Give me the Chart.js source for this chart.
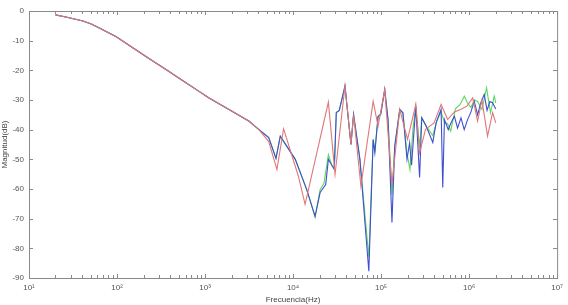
<!DOCTYPE html>
<html>
<head>
<meta charset="utf-8">
<script src="https://cdn.jsdelivr.net/npm/chart.js@4"></script>
<style>
  html, body { margin: 0; padding: 0; background: #fff; overflow: hidden; }
  #bode { display: block; }
</style>
</head>
<body>
<canvas id="bode" width="568" height="305"></canvas>
<script>
// ---- data (frequency in Hz, magnitude in dB) ----
const lowFreq = [20, 27, 41, 51, 63, 98, 151, 233, 360, 555, 855, 1110, 1870, 3140, 4070];
const lowMag  = [-1.3, -2.1, -3.4, -4.4, -5.7, -8.7, -12.4, -16.1, -19.7, -23.4, -27.1, -29.3, -33.2, -37.1, -39.9];

const freqBlue = [5290, 6400, 7160, 10600, 14300, 17800, 20300, 23500, 25200, 29400, 31000, 33500, 38900, 45500, 48700, 57500,
  72600, 81300, 85000, 92500, 99000, 110000, 120000, 133000, 143000, 163000, 177000, 197000, 211000, 222000, 248000,
  274000, 290000, 325000, 387000, 422000, 481000, 502000, 525000, 580000, 624000, 681000, 740000, 809000, 880000,
  962000, 1050000, 1145000, 1250000, 1360000, 1485000, 1600000, 1720000, 1845000, 2010000];
const magBlue = [-42.7, -49.7, -42.2, -50.0, -60.2, -69.2, -61.2, -58.5, -50.0, -53.4, -34.2, -33.5, -25.3, -45.0, -34.9, -50.0,
  -87.7, -43.3, -47.8, -35.5, -34.9, -26.5, -36.6, -71.3, -45.6, -33.2, -34.3, -50.0, -44.4, -52.0, -32.1,
  -56.1, -36.0, -38.8, -44.3, -37.7, -33.2, -59.5, -36.6, -40.0, -37.7, -35.5, -39.5, -36.0, -40.0,
  -36.6, -34.0, -30.4, -35.0, -30.9, -28.1, -33.5, -30.5, -30.9, -33.0];

const freqGreen = [5290, 6400, 7160, 10600, 14300, 17800, 20300, 22500, 25200, 27500, 29400, 31000, 33500, 38900, 45500, 48700,
  57500, 72600, 81300, 85000, 92500, 99000, 110000, 120000, 133000, 143000, 163000, 177000, 197000, 213000, 230000,
  248000, 274000, 290000, 325000, 387000, 430000, 481000, 525000, 570000, 618000, 700000, 790000, 883000, 960000,
  1050000, 1145000, 1250000, 1400000, 1580000, 1750000, 1930000, 2010000];
const magGreen = [-42.7, -49.7, -42.2, -50.0, -60.2, -69.5, -60.2, -58.0, -48.4, -52.0, -53.0, -34.2, -33.5, -25.3, -45.0, -34.9,
  -50.0, -83.0, -43.3, -47.0, -35.5, -34.9, -26.5, -36.6, -62.0, -45.6, -33.2, -34.3, -48.0, -53.4, -40.0,
  -32.1, -46.0, -36.0, -38.8, -42.0, -37.0, -34.0, -37.5, -38.0, -40.5, -33.0, -31.5, -28.7, -31.0,
  -32.5, -30.0, -30.5, -33.2, -25.9, -34.3, -28.7, -31.0];

const freqRed = [5290, 6560, 7810, 11500, 13700, 25200, 30000, 38900, 45500, 48700, 59000, 81300, 92500, 110000, 133000,
  163000, 200000, 248000, 274000, 320000, 400000, 481000, 571000, 680000, 800000, 950000, 1100000, 1250000,
  1400000, 1620000, 1850000, 2010000];
const magRed = [-44.0, -53.4, -39.7, -55.7, -65.2, -30.7, -55.1, -25.3, -45.0, -34.9, -59.0, -30.4, -38.8, -26.5, -58.5,
  -33.2, -43.3, -31.5, -47.8, -39.9, -37.7, -31.5, -36.6, -34.0, -33.2, -32.0, -29.3, -37.1,
  -30.0, -42.2, -34.3, -37.7];

const yTicks = [0, -10, -20, -30, -40, -50, -60, -70, -80, -90];
const xDecades = [1e1, 1e2, 1e3, 1e4, 1e5, 1e6, 1e7];
const supers = ['\u2070', '\u00b9', '\u00b2', '\u00b3', '\u2074', '\u2075', '\u2076', '\u2077'];

function toPoints(f, m) {
  const fs = lowFreq.concat(f), ms = lowMag.concat(m);
  return fs.map((v, i) => ({ x: v, y: ms[i] }));
}

// MATLAB-style box with inward ticks
const boxTicks = {
  id: 'boxTicks',
  afterDraw(chart) {
    const { ctx, chartArea: a, scales: { x, y } } = chart;
    ctx.save();
    ctx.strokeStyle = '#8a8a8a';
    ctx.lineWidth = 1;
    ctx.strokeRect(a.left + 0.5, a.top + 0.5, a.right - a.left, a.bottom - a.top);
    ctx.beginPath();
    for (let d = 1; d < 7; d++) {
      for (let k = 1; k <= 10; k++) {
        const px = Math.round(x.getPixelForValue(k * Math.pow(10, d))) + 0.5;
        const len = k === 1 || k === 10 ? 4 : 3;
        ctx.moveTo(px, a.bottom); ctx.lineTo(px, a.bottom - len);
        ctx.moveTo(px, a.top); ctx.lineTo(px, a.top + len);
      }
    }
    yTicks.forEach(v => {
      const py = Math.round(y.getPixelForValue(v)) + 0.5;
      ctx.moveTo(a.left, py); ctx.lineTo(a.left + 4, py);
      ctx.moveTo(a.right, py); ctx.lineTo(a.right - 4, py);
    });
    ctx.stroke();
    ctx.restore();
  }
};

const font = { family: 'Liberation Sans, Arial, sans-serif', size: 8 };

new Chart(document.getElementById('bode'), {
  type: 'line',
  data: {
    datasets: [
      { label: 'R', data: toPoints(freqRed, magRed), borderColor: '#e0767a' },
      { label: 'B', data: toPoints(freqBlue, magBlue), borderColor: '#3f4fd0' },
      { label: 'G', data: toPoints(freqGreen, magGreen), borderColor: '#5ad95a' }
    ].map(ds => Object.assign(ds, { borderWidth: 1.1, pointRadius: 0, tension: 0, fill: false }))
  },
  options: {
    responsive: false,
    animation: false,
    devicePixelRatio: 1,
    layout: { padding: { top: 11, right: 8, left: 0, bottom: 0 } },
    plugins: { legend: { display: false }, tooltip: { enabled: false } },
    scales: {
      x: {
        type: 'logarithmic',
        min: 10, max: 1e7,
        afterFit: s => { s.height = 27; },
        afterBuildTicks: s => { s.ticks = xDecades.map(v => ({ value: v, major: true })); },
        grid: { display: false, drawTicks: false },
        border: { display: false },
        ticks: {
          color: '#555', font, padding: 5, maxRotation: 0, autoSkip: false,
          callback: v => '10' + supers[Math.round(Math.log10(v))]
        },
        title: { display: true, text: 'Frecuencia(Hz)', color: '#444', font, padding: { top: 0, bottom: 0 } }
      },
      y: {
        min: -90, max: 0,
        afterFit: s => { s.width = 29; },
        afterBuildTicks: s => { s.ticks = yTicks.map(v => ({ value: v })); },
        grid: { display: false, drawTicks: false },
        border: { display: false },
        ticks: { color: '#555', font, padding: 5, autoSkip: false, callback: v => String(v) },
        title: { display: true, text: 'Magnitud(dB)', color: '#444', font, padding: { top: 0, bottom: 0 } }
      }
    }
  },
  plugins: [boxTicks]
});
</script>
</body>
</html>
